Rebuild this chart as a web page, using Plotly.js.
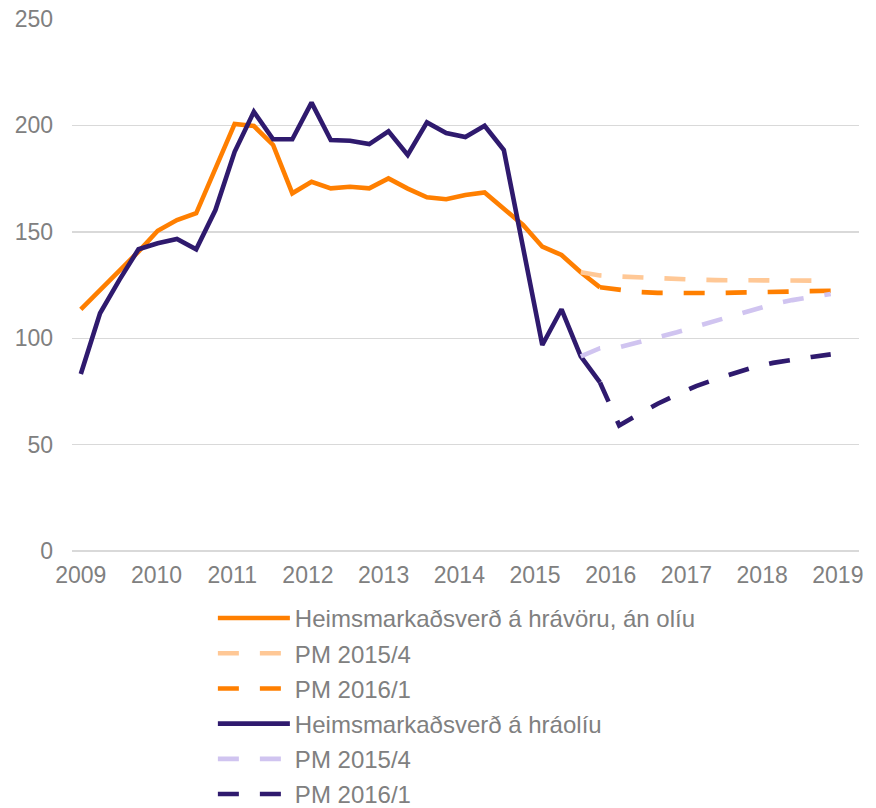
<!DOCTYPE html>
<html>
<head>
<meta charset="utf-8">
<script src="https://cdn.plot.ly/plotly-3.0.1.min.js"></script>
<style>html,body{margin:0;padding:0;background:#fff;}#chart{width:876px;height:808px;}</style>
</head>
<body>
<div id="chart"></div>
<script>
// Quarterly periods 2009Q1 .. 2018Q4
const quarters = ["2009K1","2009K2","2009K3","2009K4","2010K1","2010K2","2010K3","2010K4",
  "2011K1","2011K2","2011K3","2011K4","2012K1","2012K2","2012K3","2012K4",
  "2013K1","2013K2","2013K3","2013K4","2014K1","2014K2","2014K3","2014K4",
  "2015K1","2015K2","2015K3","2015K4","2016K1","2016K2","2016K3","2016K4",
  "2017K1","2017K2","2017K3","2017K4","2018K1","2018K2","2018K3","2018K4"];
const yearLabels = ["2009","2010","2011","2012","2013","2014","2015","2016","2017","2018","2019"];

// Non-oil commodity prices (actual), 2009K1..2015K4
const commodityActual = [113.6,122.5,131.5,140.7,150.5,155.5,158.7,179.4,200.7,199.7,190.8,168.1,173.5,170.4,171.2,170.4,
  175.1,170.3,166.2,165.3,167.3,168.5,161.0,153.2,143.0,139.1,131.0,123.9];
// Forecast PM 2015/4, 2015K3..2018K4
const commodityPM2015_4 = [131.0,129.5,129.0,128.5,128.0,127.8,127.5,127.3,127.2,127.1,127.0,127.0,127.0,127.0];
// Forecast PM 2016/1, 2015K4..2018K4
const commodityPM2016_1 = [123.9,122.6,121.7,121.3,121.1,121.1,121.2,121.4,121.5,121.8,122.0,122.1,122.3];

// Crude oil prices (actual), 2009K1..2015K4
const oilActual = [83.2,111.7,127.3,141.8,144.6,146.6,141.8,160.2,187.6,206.4,193.5,193.5,210.7,193.1,192.8,191.2,
  197.2,186.1,201.4,196.4,194.5,199.8,188.4,143.0,96.8,113.6,91.5,79.2];
// Forecast PM 2015/4, 2015K3..2018K4
const oilPM2015_4 = [91.5,95.3,95.8,98.1,100.3,102.8,105.5,108.2,111.0,113.6,116.0,117.9,119.6,120.8];
// Forecast PM 2016/1, 2015K4..2018K4
const oilPM2016_1 = [79.2,59.0,64.2,69.2,73.5,77.5,80.7,83.5,86.4,88.4,90.0,91.2,92.4];

const names = ["Heimsmarkaðsverð á hrávöru, án olíu","PM 2015/4","PM 2016/1",
               "Heimsmarkaðsverð á hráolíu","PM 2015/4","PM 2016/1"];

const idx = (startLabel, n) => {
  const s = quarters.indexOf(startLabel);
  return Array.from({length: n}, (_, k) => s + k);
};

const DASH = "21px,21px";
const W = 4.6;
function tr(y, start, name, color, dash, grp) {
  return {
    x: idx(start, y.length), y: y, name: name, type: "scatter", mode: "lines",
    line: {color: color, width: W, dash: dash},
    legendgroup: grp, hoverinfo: "skip"
  };
}

const traces = [
  tr(commodityActual, "2009K1", names[0], "#FF7F00", "solid", "a"),
  tr(commodityPM2015_4, "2015K3", names[1], "#FFC896", DASH, "b"),
  tr(commodityPM2016_1, "2015K4", names[2], "#FF7F00", DASH, "c"),
  tr(oilActual, "2009K1", names[3], "#2F1A6E", "solid", "d"),
  tr(oilPM2015_4, "2015K3", names[4], "#D0C4F0", DASH, "e"),
  tr(oilPM2016_1, "2015K4", names[5], "#2F1A6E", DASH, "f")
];

// tick positions for year labels (in quarter-index units)
const yearTickVals = yearLabels.map((y, k) => k * 3.937);

const textColor = "#808080";
const layout = {
  width: 876, height: 808,
  margin: {l: 72, r: 17, t: 19, b: 257, autoexpand: false},
  paper_bgcolor: "#fff", plot_bgcolor: "#fff",
  font: {family: "Liberation Sans, Arial, sans-serif", color: textColor, size: 23},
  showlegend: true,
  xaxis: {
    range: [-0.458, 40.47], showgrid: false, zeroline: false, showline: false,
    tickmode: "array", tickvals: yearTickVals, ticktext: yearLabels, ticks: "",
    ticklabelstandoff: 8, automargin: false,
    tickfont: {size: 23, color: textColor}, fixedrange: true
  },
  yaxis: {
    range: [0, 250], tickmode: "linear", tick0: 0, dtick: 50,
    showgrid: true, gridcolor: "#D9D9D9", gridwidth: 1.4,
    zeroline: true, zerolinecolor: "#D9D9D9", zerolinewidth: 1.4,
    showline: false, ticks: "", ticklabelstandoff: 18, automargin: false,
    tickfont: {size: 23, color: textColor}, fixedrange: true
  },
  legend: {
    orientation: "v", x: 0.179, xanchor: "left", y: -0.0845, yanchor: "top",
    traceorder: "grouped", tracegroupgap: 1,
    itemwidth: 72, bgcolor: "rgba(0,0,0,0)",
    font: {size: 24, color: textColor}
  }
};

Plotly.newPlot("chart", traces, layout, {staticPlot: true, displayModeBar: false});
</script>
</body>
</html>
